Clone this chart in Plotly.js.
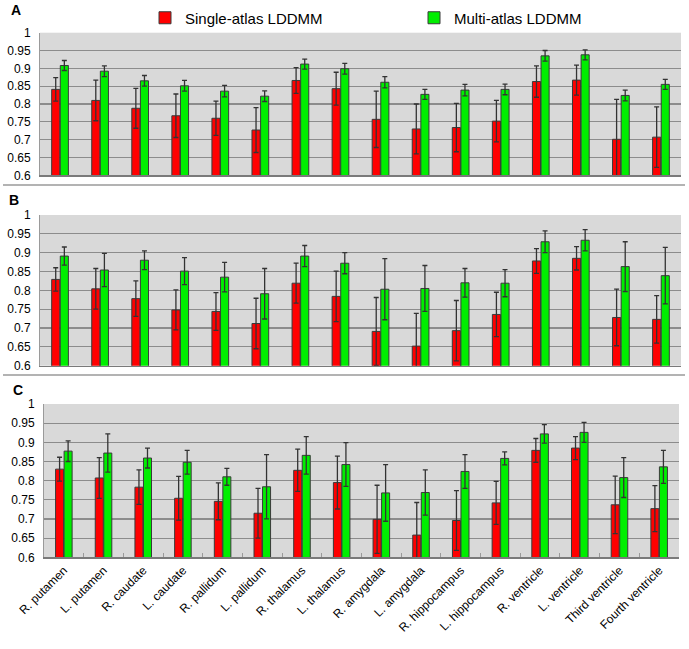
<!DOCTYPE html>
<html>
<head>
<meta charset="utf-8">
<script src="https://cdn.plot.ly/plotly-3.0.1.min.js"></script>
<style>html,body{margin:0;padding:0;background:#fff;}#chart{width:689px;height:649px;}</style>
</head>
<body>
<div id="chart"></div>
<script>
const categories = ["R. putamen","L. putamen","R. caudate","L. caudate","R. pallidum","L. pallidum","R. thalamus","L. thalamus","R. amygdala","L. amygdala","R. hippocampus","L. hippocampus","R. ventricle","L. ventricle","Third ventricle","Fourth ventricle"];
const seriesNames = ["Single-atlas LDDMM","Multi-atlas LDDMM"];
const panelLabels = ["A","B","C"];
const yTicks = [0.6,0.65,0.7,0.75,0.8,0.85,0.9,0.95,1];

// Panel A
const singleA    = [0.841,0.810,0.788,0.767,0.760,0.727,0.866,0.843,0.757,0.730,0.734,0.752,0.863,0.867,0.701,0.707];
const singleAErr = [0.033,0.057,0.056,0.061,0.048,0.063,0.036,0.046,0.079,0.070,0.068,0.058,0.044,0.042,0.112,0.085];
const multiA     = [0.908,0.892,0.865,0.851,0.836,0.822,0.912,0.899,0.861,0.827,0.839,0.841,0.935,0.938,0.824,0.855];
const multiAErr  = [0.014,0.015,0.015,0.015,0.016,0.015,0.014,0.015,0.016,0.014,0.016,0.015,0.015,0.014,0.015,0.014];
// Panel B
const singleB    = [0.829,0.804,0.778,0.748,0.744,0.712,0.819,0.784,0.691,0.652,0.693,0.736,0.878,0.885,0.728,0.723];
const singleBErr = [0.031,0.054,0.047,0.053,0.050,0.067,0.053,0.067,0.090,0.087,0.080,0.059,0.033,0.031,0.075,0.063];
const multiB     = [0.891,0.854,0.880,0.851,0.835,0.791,0.891,0.872,0.803,0.805,0.820,0.819,0.929,0.933,0.863,0.839];
const multiBErr  = [0.024,0.044,0.025,0.036,0.039,0.067,0.028,0.028,0.081,0.061,0.038,0.036,0.029,0.028,0.066,0.075];
// Panel C
const singleC    = [0.830,0.807,0.783,0.754,0.746,0.715,0.827,0.795,0.699,0.658,0.696,0.742,0.879,0.885,0.737,0.727];
const singleCErr = [0.031,0.053,0.045,0.057,0.048,0.065,0.055,0.069,0.089,0.085,0.078,0.056,0.031,0.030,0.075,0.060];
const multiC     = [0.877,0.872,0.859,0.848,0.810,0.784,0.866,0.842,0.768,0.769,0.824,0.858,0.922,0.926,0.808,0.836];
const multiCErr  = [0.027,0.050,0.026,0.031,0.022,0.084,0.049,0.057,0.074,0.059,0.044,0.017,0.024,0.026,0.052,0.043];

const W = 689, H = 649;
const px = v => v / W;
const py = v => 1 - v / H;

const colors = ["#ff0000", "#00ee00"];
const legendIds = ["legend", "legend2"];
const panels = [
  {s: singleA, se: singleAErr, m: multiA, me: multiAErr, xa: "x",  ya: "y"},
  {s: singleB, se: singleBErr, m: multiB, me: multiBErr, xa: "x2", ya: "y2"},
  {s: singleC, se: singleCErr, m: multiC, me: multiCErr, xa: "x3", ya: "y3"}
];

const traces = [];
panels.forEach((p, i) => {
  [[p.s, p.se], [p.m, p.me]].forEach((d, k) => {
    traces.push({
      type: "bar",
      name: seriesNames[k],
      x: categories,
      y: d[0],
      xaxis: p.xa,
      yaxis: p.ya,
      showlegend: i === 0,
      legend: legendIds[k],
      legendgroup: seriesNames[k],
      marker: {color: colors[k], line: {color: "#3a3a3a", width: 1}},
      error_y: {type: "data", array: d[1], visible: true, color: "#333333", thickness: 1.3, width: 2.5},
      hoverinfo: "x+y"
    });
  });
});

function xAxis(dom, showLabels, anchor) {
  return {
    domain: dom, anchor: anchor, type: "category",
    showgrid: false, showline: true, linecolor: "#7a7a7a", linewidth: 1.3,
    showticklabels: showLabels, tickangle: -45,
    tickfont: {family: "Liberation Sans, Arial, sans-serif", size: 12, color: "#000"},
    ticks: showLabels ? "inside" : "", tickson: "boundaries", ticklen: 4, tickcolor: "#9a9a9a",
    automargin: false, fixedrange: true
  };
}
function yAxis(dom, anchor) {
  return {
    domain: dom, anchor: anchor, range: [0.6, 1], tickvals: yTicks,
    ticktext: yTicks.map(v => String(v)),
    showgrid: true, gridcolor: "#8c8c8c", gridwidth: 1.2,
    showline: true, linecolor: "#9a9a9a", linewidth: 1,
    ticks: "", ticklabelstandoff: 6,
    tickfont: {family: "Liberation Sans, Arial, sans-serif", size: 12, color: "#000"},
    zeroline: false, automargin: false, fixedrange: true
  };
}
function legendAt(xPix) {
  return {
    orientation: "h", x: px(xPix), xanchor: "left", y: py(18), yanchor: "middle",
    font: {family: "Liberation Sans, Arial, sans-serif", size: 15, color: "#000"},
    itemwidth: 30, bgcolor: "rgba(0,0,0,0)"
  };
}

const layout = {
  width: W, height: H,
  margin: {l: 0, r: 0, t: 0, b: 0},
  paper_bgcolor: "#ffffff",
  plot_bgcolor: "#d9d9d9",
  barmode: "group", bargap: 0.57, bargroupgap: 0.06,
  font: {family: "Liberation Sans, Arial, sans-serif", color: "#000"},
  xaxis:  xAxis([px(40), px(681)], false, "y"),
  xaxis2: xAxis([px(40), px(681)], false, "y2"),
  xaxis3: xAxis([px(44), px(679)], true, "y3"),
  yaxis:  yAxis([py(175.3), py(32.7)], "x"),
  yaxis2: yAxis([py(365.7), py(215)], "x2"),
  yaxis3: yAxis([py(557.3), py(404)], "x3"),
  legend: legendAt(145),
  legend2: legendAt(414),
  annotations: [
    {text: "<b>" + panelLabels[0] + "</b>", x: px(9), y: py(10), xref: "paper", yref: "paper", xanchor: "left", yanchor: "middle", showarrow: false, font: {size: 14, family: "Liberation Sans, Arial, sans-serif"}},
    {text: "<b>" + panelLabels[1] + "</b>", x: px(7), y: py(200), xref: "paper", yref: "paper", xanchor: "left", yanchor: "middle", showarrow: false, font: {size: 14, family: "Liberation Sans, Arial, sans-serif"}},
    {text: "<b>" + panelLabels[2] + "</b>", x: px(11), y: py(390), xref: "paper", yref: "paper", xanchor: "left", yanchor: "middle", showarrow: false, font: {size: 14, family: "Liberation Sans, Arial, sans-serif"}}
  ],
  shapes: [
    {type: "line", xref: "paper", yref: "paper", x0: px(3), x1: px(685), y0: py(185), y1: py(185), line: {color: "#9a9a9a", width: 1.5}},
    {type: "line", xref: "paper", yref: "paper", x0: px(3), x1: px(685), y0: py(375), y1: py(375), line: {color: "#9a9a9a", width: 1.5}}
  ]
};

Plotly.newPlot("chart", traces, layout, {staticPlot: true, displayModeBar: false});
</script>
</body>
</html>
